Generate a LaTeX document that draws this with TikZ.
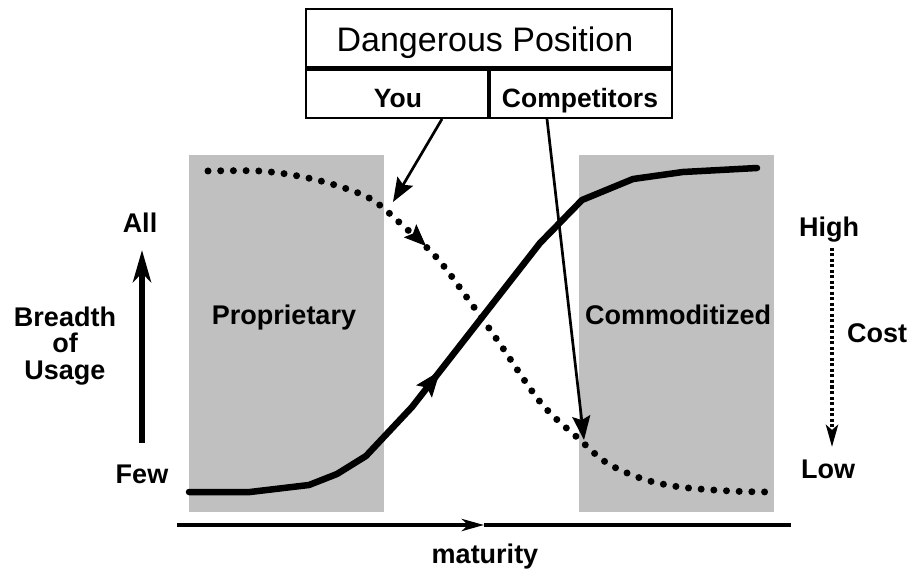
\documentclass[tikz,border=0pt]{standalone}
\usepackage{fontspec}
\setmainfont{Liberation Sans}
\usetikzlibrary{arrows.meta}
\definecolor{shade}{HTML}{C0C0C0}
\begin{document}
\begin{tikzpicture}[x=1pt,y=-1pt,
  lbl/.style={font=\fontsize{27}{30}\selectfont\bfseries, anchor=base, inner sep=0pt},
  cell/.style={font=\fontsize{26.5}{30}\selectfont\bfseries, anchor=base, inner sep=0pt},
  titletext/.style={font=\fontsize{34}{38}\selectfont, anchor=base, inner sep=0pt},
  zone/.style={fill=shade, draw=none},
  scurve/.style={line width=6.5pt, line cap=round, line join=round},
  dcurve/.style={line width=7pt, line cap=round, dash pattern=on 0pt off 12.7pt},
  pointer/.style={line width=2.7pt, -{Stealth[length=24pt,width=18pt,inset=4pt]}},
  headonly/.style={line width=1pt},
]
\useasboundingbox (0,0) rectangle (916,569);

% shaded zones
\fill[zone] (189,155) rectangle (384,512);
\fill[zone] (579,155) rectangle (774,512);

% header box
\draw[line width=2.5pt] (306,9) rectangle (672,118);
\draw[line width=5pt] (306,69) -- (672,69);
\draw[line width=3.3pt] (489,69) -- (489,118);
\node[titletext] (title) at (485,52) {Dangerous Position};
\node[cell] (you) at (398,108) {You};
\node[cell] (comp) at (580,108) {Competitors};

% zone labels
\node[lbl] (prop) at (284,325) {Proprietary};
\node[lbl] (commod) at (678,325) {Commoditized};

% S-curve (usage)
\draw[scurve] (189,492) -- (250,492) -- (309,485) -- (337,474) -- (366,456)
  -- (412,407) -- (540,243) -- (582,200) -- (633,179) -- (683,172) -- (757,168);
\coordinate (sa) at (427.1,387.5);
\coordinate (sb) at (440,371);
\draw[headonly, -{Stealth[length=26pt,width=20pt,inset=5pt]}] (sa) -- (sb);

% dotted cost curve
\draw[dcurve] plot[smooth, tension=0.55] coordinates {(208,171) (259,171) (298,176) (335,185)
  (371,199) (400,223) (437,258) (468,299) (498,341) (541,403) (579,439) (607,463)
  (643,479) (680,487) (730,491) (768,492)};
\coordinate (da) at (413,233.6);
\coordinate (db) at (426,246);
\draw[headonly, -{Stealth[length=22pt,width=18pt,inset=4pt]}] (da) -- (db);

% pointers from header
\coordinate (youtail) at (442,119);
\coordinate (youtip) at (393,202);
\coordinate (comptail) at (547,119);
\coordinate (comptip) at (584,440);
\draw[pointer] (youtail) -- (youtip);
\draw[pointer] (comptail) -- (comptip);

% left axis
\node[lbl] (all) at (140,233) {All};
\node[lbl] (few) at (142,483) {Few};
\node[lbl] (br1) at (65,327) {Breadth};
\node[lbl] (br2) at (65,353) {of};
\node[lbl] (br3) at (65,380) {Usage};
\coordinate (ya) at (142,443);
\coordinate (yb) at (142,250);
\draw[line width=6pt, -{Stealth[length=32pt,width=18pt,inset=9pt]}] (ya) -- (yb);

% right axis
\node[lbl] (high) at (829,237) {High};
\node[lbl] (low) at (828,478) {Low};
\node[lbl] (cost) at (877,343) {Cost};
\coordinate (ca) at (832,248);
\coordinate (cb) at (832,447);
\draw[line width=4pt, dash pattern=on 3pt off 2.5pt, -{Stealth[length=22pt,width=12pt,inset=5pt]}] (ca) -- (cb);

% maturity axis
\coordinate (m0) at (177,525);
\coordinate (mm) at (484,525);
\coordinate (m1) at (791,525);
\draw[line width=4.7pt, -{Stealth[length=22pt,width=12pt,inset=6pt]}] (m0) -- (mm);
\draw[line width=4.7pt] (mm) -- (m1);
\node[lbl] (mat) at (485,563) {maturity};
\end{tikzpicture}
\end{document}
